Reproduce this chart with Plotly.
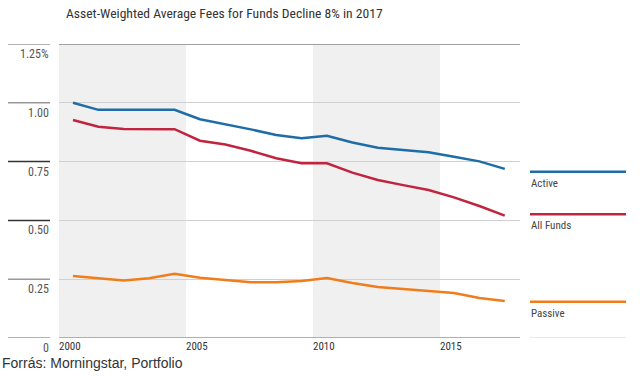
import plotly.graph_objects as go

# ---- data ----
years = list(range(2000, 2018))
active = [1.00, 0.97, 0.97, 0.97, 0.97, 0.93, 0.91, 0.887, 0.863, 0.849, 0.86, 0.831, 0.809, 0.798, 0.79, 0.771, 0.751, 0.719]
all_funds = [0.927, 0.898, 0.889, 0.889, 0.888, 0.839, 0.823, 0.796, 0.764, 0.743, 0.743, 0.703, 0.672, 0.65, 0.629, 0.598, 0.561, 0.52]
passive = [0.264, 0.254, 0.244, 0.254, 0.273, 0.256, 0.247, 0.237, 0.237, 0.242, 0.255, 0.234, 0.217, 0.208, 0.200, 0.191, 0.170, 0.157]
series_names = ["Active", "All Funds", "Passive"]
y_ticks = [0, 0.25, 0.5, 0.75, 1.0, 1.25]
y_tick_labels = ["0", "0.25", "0.50", "0.75", "1.00", "1.25%"]
x_ticks = [2000, 2005, 2010, 2015]
shaded_periods = [(2000, 2005), (2010, 2015)]
title = "Asset-Weighted Average Fees for Funds Decline 8% in 2017"
source = "Forrás: Morningstar, Portfolio"

colors = ["#1f6da6", "#c0243f", "#f07d1c"]
NARROW = "Liberation Sans Narrow, Roboto Condensed, Arial Narrow, sans-serif"

W, H = 640, 376
PL, PT, PR, PB = 59, 44, 520, 338   # plot area in page pixels
L, T, R, B = PL, PT, W - PR, H - PB
plot_w = PR - PL

x_pos = [y + 0.55 for y in years]

fig = go.Figure()
for name, vals, c in zip(series_names, [active, all_funds, passive], colors):
    fig.add_trace(go.Scatter(x=x_pos, y=vals, mode="lines", name=name,
                             line=dict(color=c, width=2.5), showlegend=False))

shapes = []
for a, b in shaded_periods:
    shapes.append(dict(type="rect", xref="x", yref="paper", x0=a, x1=b, y0=0, y1=1,
                       fillcolor="#f0f0f0", line=dict(width=0), layer="below"))

def px_to_paper_x(px):
    return (px - PL) / plot_w

annotations = []
for v, lab in zip(y_ticks, y_tick_labels):
    dark = v in (0.5, 0.75)
    shapes.append(dict(type="line", xref="paper", yref="y", x0=px_to_paper_x(8), x1=px_to_paper_x(50),
                       y0=v, y1=v, line=dict(color="#333" if dark else "#999", width=1.5)))
    annotations.append(dict(xref="paper", yref="y", x=px_to_paper_x(51), y=v, text=lab,
                            showarrow=False, xanchor="right", yanchor="top", yshift=-1,
                            font=dict(family=NARROW, size=12, color="#555")))

shapes.append(dict(type="line", xref="paper", yref="y", x0=0, x1=1, y0=1.25, y1=1.25,
                   line=dict(color="#a0a0a0", width=2)))
shapes.append(dict(type="line", xref="paper", yref="y", x0=0, x1=1, y0=0, y1=0,
                   line=dict(color="#b0b0b0", width=2)))
shapes.append(dict(type="line", xref="paper", yref="y", x0=px_to_paper_x(530), x1=px_to_paper_x(626),
                   y0=0, y1=0, line=dict(color="#e0e0e0", width=1.5)))
legend_y = [active[-1] - 0.012, all_funds[-1] + 0.006, passive[-1] - 0.003]
for name, c, ly in zip(series_names, colors, legend_y):
    shapes.append(dict(type="line", xref="paper", yref="y", x0=px_to_paper_x(530), x1=px_to_paper_x(626),
                       y0=ly, y1=ly, line=dict(color=c, width=2.5)))
    annotations.append(dict(xref="paper", yref="y", x=px_to_paper_x(529), y=ly, text=name,
                            showarrow=False, xanchor="left", yanchor="top", yshift=-3,
                            font=dict(family=NARROW, size=11, color="#444")))

annotations.append(dict(xref="paper", yref="paper", x=px_to_paper_x(64), y=1, yshift=PT - 13,
                        text=title, showarrow=False, xanchor="left", yanchor="middle",
                        font=dict(family=NARROW, size=13.6, color="#333")))
annotations.append(dict(xref="paper", yref="paper", x=px_to_paper_x(0), y=0, yshift=-(363 - PB),
                        text=source, showarrow=False, xanchor="left", yanchor="middle",
                        font=dict(family="Liberation Sans, Arial, sans-serif", size=14, color="#333")))

fig.update_layout(
    width=W, height=H, margin=dict(l=L, r=R, t=T, b=B),
    paper_bgcolor="white", plot_bgcolor="rgba(0,0,0,0)",
    shapes=shapes, annotations=annotations,
    xaxis=dict(range=[2000, 2000 + plot_w / 25.4], tickvals=x_ticks, ticktext=[str(t) for t in x_ticks],
               showgrid=False, zeroline=False, showline=False, ticks="",
               ticklabelposition="outside right", tickfont=dict(family=NARROW, size=11, color="#333")),
    yaxis=dict(range=[0, 1.25], tickvals=y_ticks, showticklabels=False, showgrid=True,
               gridcolor="#d0d0d0", gridwidth=1, zeroline=False, showline=False, ticks=""),
)

fig.write_html("out.html", config={"displayModeBar": False},
               post_script="document.body.style.margin='0';document.body.style.overflow='hidden';")
